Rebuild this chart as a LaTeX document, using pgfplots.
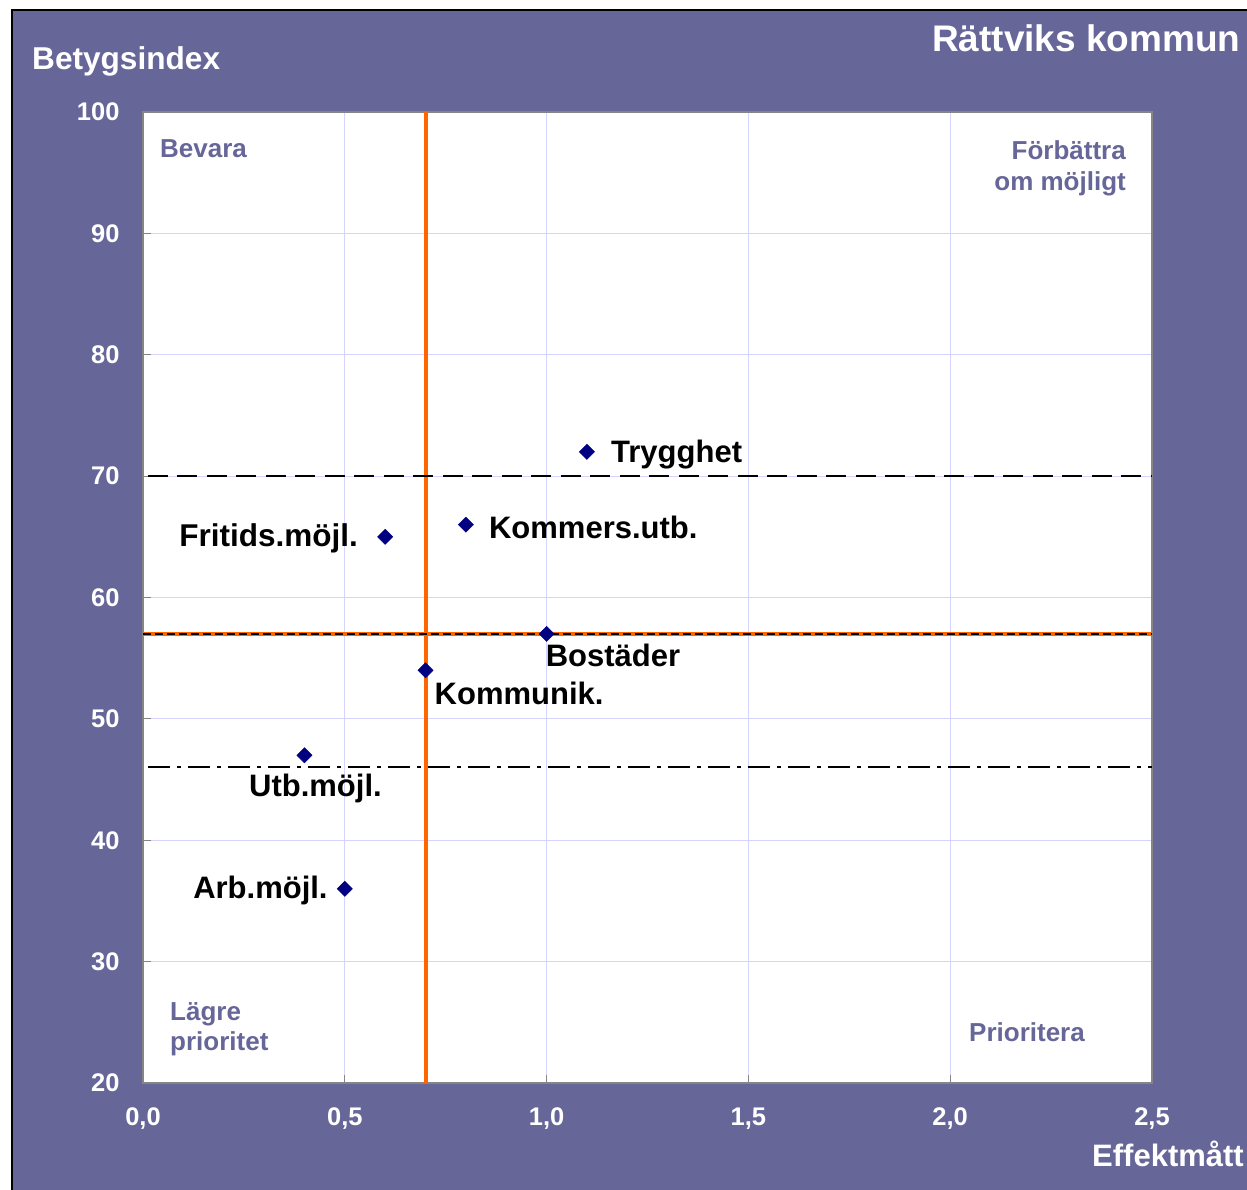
\documentclass[border=0pt]{standalone}
\usepackage{fontspec}
\setmainfont{Liberation Sans}
\usepackage{pgfplots}
\pgfplotsset{compat=1.18}
\definecolor{bgpurple}{HTML}{666699}
\definecolor{quad}{HTML}{666699}
\definecolor{gridc}{HTML}{D4D4FF}
\definecolor{orng}{HTML}{FF6600}
\definecolor{navyc}{HTML}{000080}
\definecolor{framec}{HTML}{858585}
\newcommand{\fs}[1]{\fontsize{#1}{#1}\selectfont\bfseries}
\begin{document}
\begin{tikzpicture}[x=1pt,y=1pt]
\useasboundingbox (0,0) rectangle (1247,-1190);
\begin{scope}
\clip (0,0) rectangle (1247,-1190);
\fill[white] (0,0) rectangle (1247,-1190);
\fill[bgpurple] (12,-10) rectangle (1247,-1190);
\draw[black, line width=1.5pt] (12,-1190) -- (12,-10) -- (1247,-10);
\begin{axis}[
  at={(143pt,-1083pt)}, anchor=south west,
  width=1009pt, height=971pt, scale only axis,
  xmin=0, xmax=2.5, ymin=20, ymax=100,
  axis background/.style={fill=white},
  axis line style={draw=framec, line width=2.5pt},
  grid=major,
  major grid style={gridc, line width=1pt},
  tick pos=left, tick align=inside,
  major tick length=8pt,
  tick style={framec, line width=1pt},
  xtick={0,0.5,1,1.5,2,2.5},
  xticklabels={{0,0},{0,5},{1,0},{1,5},{2,0},{2,5}},
  ytick={20,30,40,50,60,70,80,90,100},
  yticklabels={20,30,40,50,60,70,80,90,100},
  xticklabel style={font=\fs{25.5}, text=white, yshift=-21pt},
  yticklabel style={font=\fs{25.5}, text=white, xshift=-20pt},
]
\addplot[orng, line width=4pt] coordinates {(0.7,20) (0.7,100)};
\addplot[orng, line width=4pt] coordinates {(0,57) (2.5,57)};
\addplot[black, line width=2pt, dash pattern=on 8pt off 4pt] coordinates {(0,57) (2.5,57)};
\addplot[black, line width=2pt, dash pattern=on 20pt off 9.5pt] coordinates {(0.012,70) (2.5,70)};
\addplot[black, line width=2pt, dash pattern=on 22pt off 7pt on 4pt off 7pt] coordinates {(0.012,46) (2.5,46)};
\addplot[only marks, mark=square*, mark size=5.4pt, mark options={rotate=45, fill=navyc, draw=navyc}]
  coordinates {(1.1,72) (0.8,66) (0.6,65) (1.0,57) (0.7,54) (0.4,47) (0.5,36)};
\node[anchor=west, inner sep=0, font=\fs{31}] at (axis cs:1.1,72) [xshift=24pt, yshift=-3pt] {Trygghet};
\node[anchor=west, inner sep=0, font=\fs{31}] at (axis cs:0.8,66) [xshift=23pt, yshift=-3pt] {Kommers.utb.};
\node[anchor=east, inner sep=0, font=\fs{31.5}] at (axis cs:0.6,65) [xshift=-27pt, yshift=-2pt] {Fritids.möjl.};
\node[anchor=north west, inner sep=0, font=\fs{31}] at (axis cs:1.0,57) [xshift=-1pt, yshift=-10pt] {Bostäder};
\node[anchor=north west, inner sep=0, font=\fs{31}] at (axis cs:0.7,54) [xshift=9pt, yshift=-12pt] {Kommunik.};
\node[anchor=north, inner sep=0, font=\fs{31}] at (axis cs:0.4,47) [xshift=11pt, yshift=-19pt] {Utb.möjl.};
\node[anchor=east, inner sep=0, font=\fs{31}] at (axis cs:0.5,36) [xshift=-17pt, yshift=-2pt] {Arb.möjl.};
\end{axis}
% quadrant labels
\node[anchor=base west, inner sep=0, font=\fs{26}, text=quad] at (160,-158) {Bevara};
\node[anchor=base east, inner sep=0, font=\fs{26}, text=quad] at (1126,-160) {Förbättra};
\node[anchor=base east, inner sep=0, font=\fs{26}, text=quad] at (1126,-191) {om möjligt};
\node[anchor=base west, inner sep=0, font=\fs{26}, text=quad] at (170,-1020) {Lägre};
\node[anchor=base west, inner sep=0, font=\fs{26}, text=quad] at (170,-1050) {prioritet};
\node[anchor=base west, inner sep=0, font=\fs{26}, text=quad] at (969,-1041) {Prioritera};
% outer labels
\node[anchor=base west, inner sep=0, font=\fs{31.6}, text=white] at (32,-70) {Betygsindex};
\node[anchor=base west, inner sep=0, font=\fs{37}, text=white] at (932,-52) {Rättviks kommun};
\node[anchor=base east, inner sep=0, font=\fs{31}, text=white] at (1244,-1166) {Effektmått};
\end{scope}
\end{tikzpicture}
\end{document}
